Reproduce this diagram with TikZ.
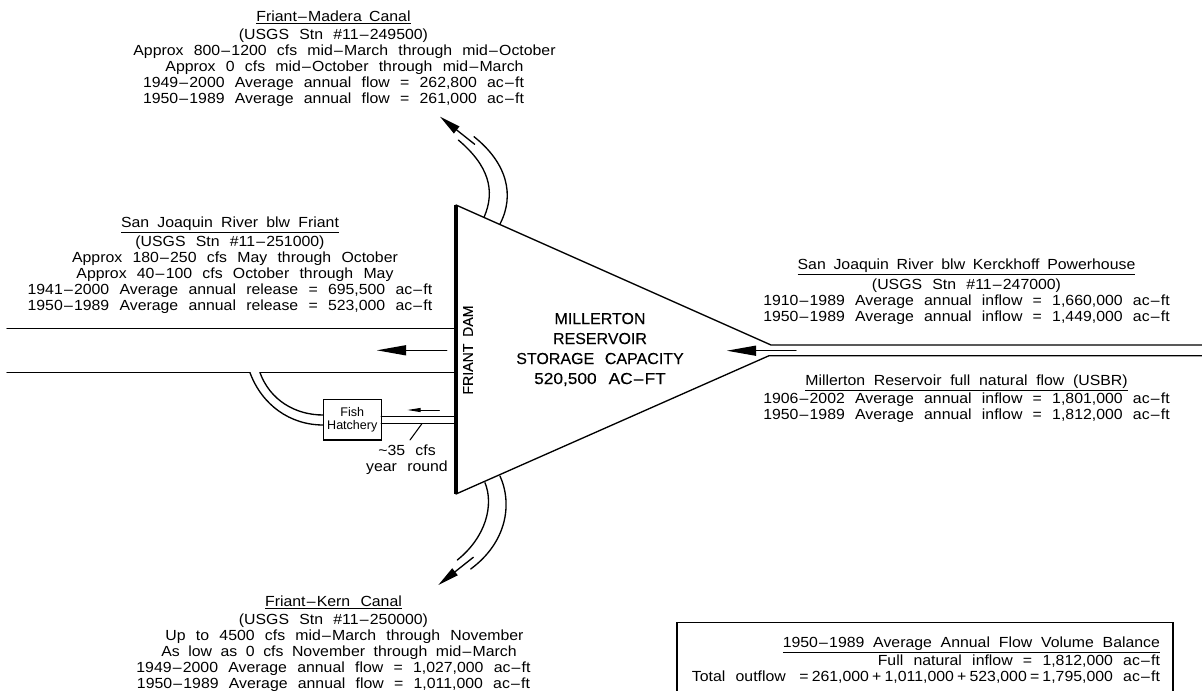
\documentclass[tikz,border=0pt]{standalone}
\usepackage{fontspec}
\setmainfont{Liberation Sans}
\newfontfamily\widefont[FakeStretch=1.08]{Liberation Sans}
\newfontfamily\capsfont[FakeBold=0.15]{Liberation Sans}
\newfontfamily\capswide[FakeBold=0.15,FakeStretch=1.08]{Liberation Sans}
\usetikzlibrary{arrows.meta}
\newcommand{\ul}[1]{\underline{#1}}
\newcommand{\hy}{\kern0.9pt–\kern0.9pt}
\newcommand{\wsp}[1]{\spaceskip #1pt\relax}
\newcommand{\opr}[1]{\kern2.4pt#1\kern2.4pt}
\newcommand{\lblfont}{\widefont\fontsize{11}{12}\selectfont\wsp{7.7}}
\newcommand{\capfont}{\capsfont\fontsize{12}{15}\selectfont\wsp{5}}
\newcommand{\damfont}{\capsfont\fontsize{10.6}{12}\selectfont\wsp{5}}
\tikzset{
  x=0.75pt,y=-0.75pt,
  wire/.style={line width=1pt,line cap=round,black},
  labelblock/.style={inner sep=0pt,outer sep=0pt,align=center,font=\lblfont},
  labelright/.style={labelblock,align=right},
  bigarrow/.style={wire,-{Triangle[length=22pt,width=7.5pt]}},
  canalarrow/.style={wire,-{Triangle[length=16pt,width=6.5pt]}},
  smallarrow/.style={wire,line width=0.7pt,-{Triangle[length=10pt,width=3pt]}},
  hatchbox/.style={draw,line width=1pt,inner sep=0pt,minimum width=43.5pt,minimum height=30.5pt,align=center,font=\fontsize{9.4}{9.75}\selectfont},
  capt/.style={inner sep=0pt,align=center,font=\capfont},
}
\begin{document}
\begin{tikzpicture}
\useasboundingbox (0,0) rectangle (1202,690);
% key points
\coordinate (damtop) at (456,205);
\coordinate (dambot) at (456,494);
\coordinate (apexu) at (771,345);
\coordinate (apexl) at (769,355.7);
\coordinate (riverEu) at (1202,345);
\coordinate (riverEl) at (1202,355.7);
% reservoir
\draw[wire] (damtop) -- (apexu) -- (riverEu);
\draw[wire] (dambot) -- (apexl) -- (riverEl);
\draw[line width=2.8pt] (damtop) -- (dambot);
% inflow arrow
\coordinate (inS) at (796,350.7); \coordinate (inT) at (726.7,350.7);
\draw[bigarrow] (inS) -- (inT);
% San Joaquin below Friant
\coordinate (lu0) at (7,328.5); \coordinate (lu1) at (456,328.5);
\coordinate (ll0) at (7,372.7); \coordinate (ll1) at (250,372.7);
\coordinate (ll2) at (260,372.7); \coordinate (ll3) at (456,372.7);
\draw[wire] (lu0) -- (lu1);
\draw[wire] (ll0) -- (ll1);
\draw[wire] (ll2) -- (ll3);
\coordinate (outS) at (446.7,350.3); \coordinate (outT) at (376.7,350.3);
\draw[bigarrow] (outS) -- (outT);
% hatchery
\node[hatchbox] (hatch) at (352.3,419.7) {Fish\\Hatchery};
\coordinate (hi) at (323.3,415); \coordinate (ho) at (323.3,425);
\coordinate (pu0) at (381.3,416.5); \coordinate (pu1) at (456,416.5);
\coordinate (pl0) at (381.3,423.5); \coordinate (pl1) at (456,423.5);
\draw[wire] (ll1) .. controls (262,405) and (290,425) .. (ho);
\draw[wire] (ll2) .. controls (270,400) and (295,415) .. (hi);
\draw[wire] (pu0) -- (pu1);
\draw[wire] (pl0) -- (pl1);
\coordinate (hS) at (439.3,410); \coordinate (hT) at (407.3,410);
\draw[smallarrow] (hS) -- (hT);
\coordinate (ld0) at (421.7,424); \coordinate (ld1) at (410,440);
\draw[wire,line width=0.8pt] (ld0) -- (ld1);
\node[labelblock] (cfs) at (407,460) {\textasciitilde 35 cfs\\year round};
% upper canal
\coordinate (ui) at (484,217.3); \coordinate (uie) at (458.3,140);
\coordinate (uo) at (500,224); \coordinate (uoe) at (474,136.7);
\draw[wire] (ui) .. controls (496,190) and (488,165) .. (uie);
\draw[wire] (uo) .. controls (515,195) and (507,163) .. (uoe);
\coordinate (uS) at (474.7,144.3); \coordinate (uT) at (440,116.7);
\draw[canalarrow] (uS) -- (uT);
% lower canal
\coordinate (bi) at (485,482.7); \coordinate (bie) at (457.3,560);
\coordinate (bo) at (500,476); \coordinate (boe) at (470.7,569);
\draw[wire] (bi) .. controls (494,505) and (486,537) .. (bie);
\draw[wire] (bo) .. controls (513,505) and (506,543) .. (boe);
\coordinate (bS) at (473.3,557.3); \coordinate (bT) at (438.3,585);
\draw[canalarrow] (bS) -- (bT);
% balance box
\coordinate (b1) at (677,692); \coordinate (b2) at (677,622.5);
\coordinate (b3) at (1173,622.5); \coordinate (b4) at (1173,692);
\draw[wire] (b1) -- (b2) -- (b3) -- (b4);
% texts
\node[rotate=90,inner sep=0pt,font=\damfont] (dam) at (468,350) {FRIANT DAM};
\node[capt] (res) at (600,349.5) {MILLERTON\\RESERVOIR\\{\wsp{8}STORAGE CAPACITY}\\{\capswide\wsp{9}520,500 AC\hy FT}};
\node[labelblock,anchor=north] (madera) at (333.5,11) {\ul{\wsp{5.5}Friant\hy Madera Canal}\\[1.5pt](USGS Stn \#11\hy 249500)\\\hspace*{16.5pt}Approx 800\hy 1200 cfs mid\hy March through mid\hy October\\\hspace*{16.5pt}Approx 0 cfs mid\hy October through mid\hy March\\1949\hy 2000 Average annual flow = 262,800 ac\hy ft\\1950\hy 1989 Average annual flow = 261,000 ac\hy ft};
\node[labelblock,anchor=north] (sjr) at (230,216.5) {\ul{\wsp{6.2}San Joaquin River blw Friant}\\[1.5pt](USGS Stn \#11\hy 251000)\\\hspace*{7.5pt}Approx 180\hy 250 cfs May through October\\\hspace*{7.5pt}Approx 40\hy 100 cfs October through May\\1941\hy 2000 Average annual release = 695,500 ac\hy ft\\1950\hy 1989 Average annual release = 523,000 ac\hy ft};
\node[labelblock,anchor=north] (kerck) at (966.5,259) {\ul{\wsp{5.8}San Joaquin River blw Kerckhoff Powerhouse}\\[1.5pt](USGS Stn \#11\hy 247000)\\1910\hy 1989 Average annual inflow = 1,660,000 ac\hy ft\\1950\hy 1989 Average annual inflow = 1,449,000 ac\hy ft};
\node[labelblock,anchor=north] (natural) at (966.5,375) {\ul{\wsp{6.5}Millerton Reservoir full natural flow (USBR)}\\1906\hy 2002 Average annual inflow = 1,801,000 ac\hy ft\\1950\hy 1989 Average annual inflow = 1,812,000 ac\hy ft};
\node[labelblock,anchor=north] (kern) at (333.5,595.5) {\ul{Friant\hy Kern Canal}\\[1.5pt](USGS Stn \#11\hy 250000)\\\hspace*{16.5pt}Up to 4500 cfs mid\hy March through November\\\hspace*{8.25pt}{\wsp{6.4}As low as 0 cfs November through mid\hy March}\\1949\hy 2000 Average annual flow = 1,027,000 ac\hy ft\\1950\hy 1989 Average annual flow = 1,011,000 ac\hy ft};
\node[labelright,anchor=north east] (bal) at (1160,637) {\ul{\wsp{6.6}1950\hy 1989 Average Annual Flow Volume Balance}\\[0pt]Full natural inflow = 1,812,000 ac\hy ft\\Total outflow \opr{=}261,000\opr{+}1,011,000\opr{+}523,000\opr{=}1,795,000 ac\hy ft};
\end{tikzpicture}
\end{document}
